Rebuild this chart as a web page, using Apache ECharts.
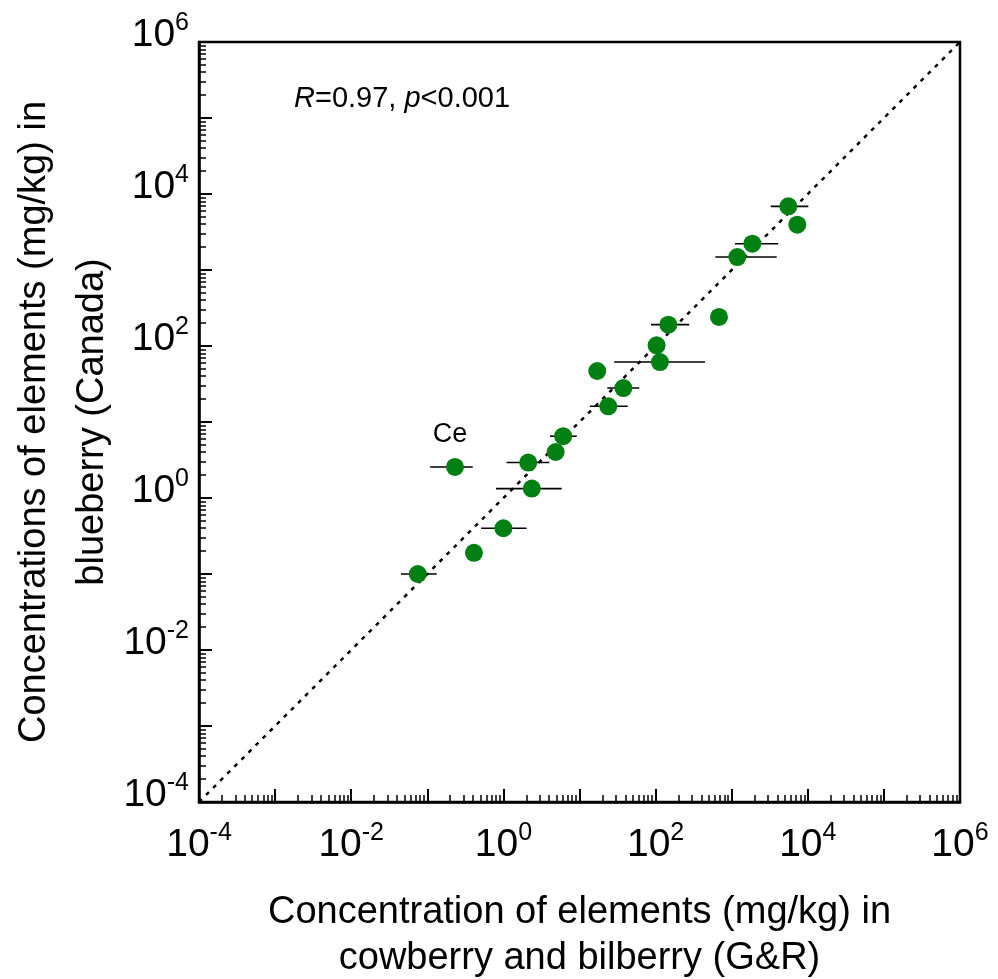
<!DOCTYPE html>
<html lang="en">
<head>
<meta charset="UTF-8">
<title>Blueberry vs cowberry/bilberry</title>
<style>
    html, body { margin: 0; padding: 0; background: #fff; }
    #echart { width: 998px; height: 979px; }
</style>
</head>
<body>
<div id="echart"></div>
<script src="https://cdn.jsdelivr.net/npm/echarts@6/dist/echarts.min.js"></script>
<script>
    const myChart = echarts.init(document.getElementById("echart"));

    // concentration in cowberry and bilberry (G&R), mg/kg
    const xVals = [0.075, 0.41, 1.0, 0.231, 2.12, 2.36, 4.86, 6.1, 17.1, 23.9, 37.7, 103, 114, 147, 681, 1185, 1866, 5550, 7280];
    // concentration in blueberry (Canada), mg/kg
    const yVals = [0.10, 0.19, 0.40, 2.56, 2.93, 1.33, 4.03, 6.5, 46.9, 16.1, 28, 102, 61.5, 191, 241, 1482, 2220, 6880, 3950];
    // horizontal error bar ends (null = none)
    const xLow = [0.045, null, 0.51, 0.109, 1.10, 0.80, null, 4.1, null, 13.7, 23.2, null, 28.6, 87, null, 610, 1104, 3260, null];
    const xHigh = [0.133, null, 2.02, 0.396, 4.02, 5.83, null, 9.2, null, 43.0, 61, null, 446, 277, null, 3900, 4090, 10160, null];
    const pointNames = ["", "", "", "Ce", "", "", "", "", "", "", "", "", "", "", "", "", "", "", ""];
    const axisMin = 1e-4;
    const axisMax = 1e6;

    const font = "Liberation Sans, Arial, sans-serif";

    // label only every second decade
    const powerLabel = (v) => {
        const e = Math.round(Math.log10(v));
        return e % 2 === 0 ? "{b|10}{s|" + e + "}" : "";
    };
    const labelRich = {
        b: { fontSize: 39, fontFamily: font, color: "#000" },
        s: { fontSize: 25, fontFamily: font, color: "#000", padding: [0, 0, 23, 0] }
    };

    const baseAxis = {
        type: "log",
        logBase: 10,
        min: axisMin,
        max: axisMax,
        splitNumber: 10,
        axisLine: { show: true, lineStyle: { color: "#000", width: 2.5 } },
        axisTick: { show: true, inside: true, length: 13, lineStyle: { color: "#000", width: 2 } },
        minorTick: { show: true, splitNumber: 9, length: 7, lineStyle: { color: "#000", width: 1.5 } },
        splitLine: { show: false },
        minorSplitLine: { show: false },
        nameLocation: "middle",
        nameMoveOverlap: false,
        nameTextStyle: { fontSize: 38, fontFamily: font, color: "#000" }
    };

    const points = xVals.map((x, i) => {
        const item = { value: [x, yVals[i]] };
        if (pointNames[i]) {
            item.label = {
                show: true, formatter: pointNames[i], position: "top", distance: 10,
                offset: [-5, 0], fontSize: 27, fontFamily: font, color: "#000"
            };
        }
        return item;
    });

    const bars = xVals.map((x, i) => [xLow[i], xHigh[i], yVals[i]]).filter((d) => d[0] !== null);

    const option = {
        animation: false,
        backgroundColor: "#fff",
        grid: {
            left: 199, right: 38, top: 42, bottom: 177,
            outerBoundsMode: "none",
            containLabel: false,
            show: true, borderColor: "#000", borderWidth: 2.5
        },
        xAxis: Object.assign({}, baseAxis, {
            axisLabel: { margin: 19, formatter: powerLabel, rich: labelRich },
            name: "Concentration of elements (mg/kg) in\ncowberry and bilberry (G&R)",
            nameGap: 88,
            nameTextStyle: Object.assign({}, baseAxis.nameTextStyle, { lineHeight: 46 })
        }),
        yAxis: Object.assign({}, baseAxis, {
            axisLabel: { margin: 10, padding: [0, 0, 14, 0], formatter: powerLabel, rich: labelRich },
            name: "Concentrations of elements (mg/kg) in\nblueberry (Canada)",
            nameGap: 77,
            nameTextStyle: Object.assign({}, baseAxis.nameTextStyle, { lineHeight: 58 })
        }),
        graphic: [{
            type: "text",
            left: 294,
            top: 84,
            style: {
                text: "{i|R}=0.97, {i|p}<0.001",
                rich: {
                    i: { fontStyle: "italic", fontSize: 29, fontFamily: font, fill: "#000" }
                },
                fontSize: 29,
                fontFamily: font,
                fill: "#000"
            }
        }],
        series: [
            {
                type: "line",
                data: [[axisMin, axisMin], [axisMax, axisMax]],
                showSymbol: false,
                silent: true,
                lineStyle: { color: "#000", width: 2.5, type: [4, 6] },
                z: 1
            },
            {
                type: "custom",
                data: bars,
                z: 2,
                renderItem: (params, api) => {
                    const a = api.coord([api.value(0), api.value(2)]);
                    const b = api.coord([api.value(1), api.value(2)]);
                    return {
                        type: "line",
                        shape: { x1: a[0], y1: a[1], x2: b[0], y2: b[1] },
                        style: { stroke: "#000", lineWidth: 1.6 }
                    };
                },
                encode: { x: [0, 1], y: 2 }
            },
            {
                type: "scatter",
                data: points,
                symbolSize: 18,
                itemStyle: { color: "#008012", opacity: 1 },
                z: 3
            }
        ]
    };

    myChart.setOption(option);
</script>
</body>
</html>
